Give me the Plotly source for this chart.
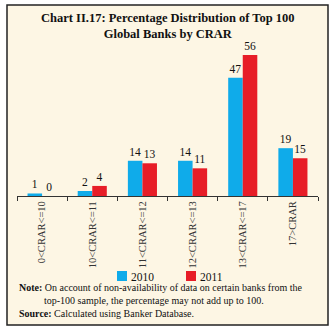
import plotly.graph_objects as go

categories = ["0<CRAR<=10", "10<CRAR<=11", "11<CRAR<=12", "12<CRAR<=13", "13<CRAR<=17", "17>CRAR"]
v2010 = [1, 2, 14, 14, 47, 19]
v2011 = [0, 4, 13, 11, 56, 15]
series_names = ["2010", "2011"]

W, H = 335, 331
ml, mr, mt, mb = 17, 17, 45, 135
ph = H - mt - mb

def py(pix):
    return (H - mb - pix) / ph

def px(pix):
    return (pix - ml) / (W - ml - mr)

SERIF = "Liberation Serif"
blue = "#0FABEA"
red = "#E71D27"
colors = [blue, red]

fig = go.Figure()
for name, vals, col in zip(series_names, [v2010, v2011], colors):
    fig.add_bar(x=categories, y=vals, name=name, marker=dict(color=col, line=dict(width=0)),
                text=[str(v) for v in vals], textposition="outside", cliponaxis=False,
                textfont=dict(family=SERIF, size=11.5, color="#111"))

fig.add_shape(type="rect", xref="paper", yref="paper", x0=px(7), x1=px(328), y0=py(325), y1=py(5),
              line=dict(color="#222", width=1.5), fillcolor="#FDF6E4", layer="below")

fig.add_annotation(text="<b>Chart II.17: Percentage Distribution of Top 100<br>Global Banks by CRAR</b>",
                   xref="paper", yref="paper", x=px(167.5), y=py(26), showarrow=False,
                   xanchor="center", yanchor="middle", font=dict(family=SERIF, size=12.5, color="#111"),
                   align="center")

# legend (manual, to match compact spacing)
leg_x = [117, 186]
for name, col, lx in zip(series_names, colors, leg_x):
    fig.add_shape(type="rect", xref="paper", yref="paper", x0=px(lx), x1=px(lx + 10),
                  y0=py(281), y1=py(271), line=dict(width=0), fillcolor=col)
    fig.add_annotation(text=name, xref="paper", yref="paper", x=px(lx + 12), y=py(276.5),
                       showarrow=False, xanchor="left", yanchor="middle",
                       font=dict(family=SERIF, size=11.5, color="#111"))

note = ("<b>Note:</b> On account of non-availability of data on certain banks from the<br>"
        "          top-100 sample, the percentage may not add up to 100.<br>"
        "<b>Source:</b> Calculated using Banker Database.")
fig.add_annotation(text=note, xref="paper", yref="paper", x=px(17), y=py(300), showarrow=False,
                   xanchor="left", yanchor="middle", align="left",
                   font=dict(family=SERIF, size=10, color="#111"))

fig.update_layout(
    width=W, height=H, margin=dict(l=ml, r=mr, t=mt, b=mb),
    paper_bgcolor="white", plot_bgcolor="rgba(0,0,0,0)",
    barmode="group", bargap=0.42, bargroupgap=0,
    showlegend=False,
    xaxis=dict(showline=True, linecolor="#333", linewidth=1, ticks="outside", ticklen=4,
               tickcolor="#333", tickson="boundaries", tickangle=-90,
               tickfont=dict(family=SERIF, size=10.5, color="#333"), showgrid=False),
    yaxis=dict(range=[0, 60], visible=False, showgrid=False),
)

fig.write_html("out.html")
